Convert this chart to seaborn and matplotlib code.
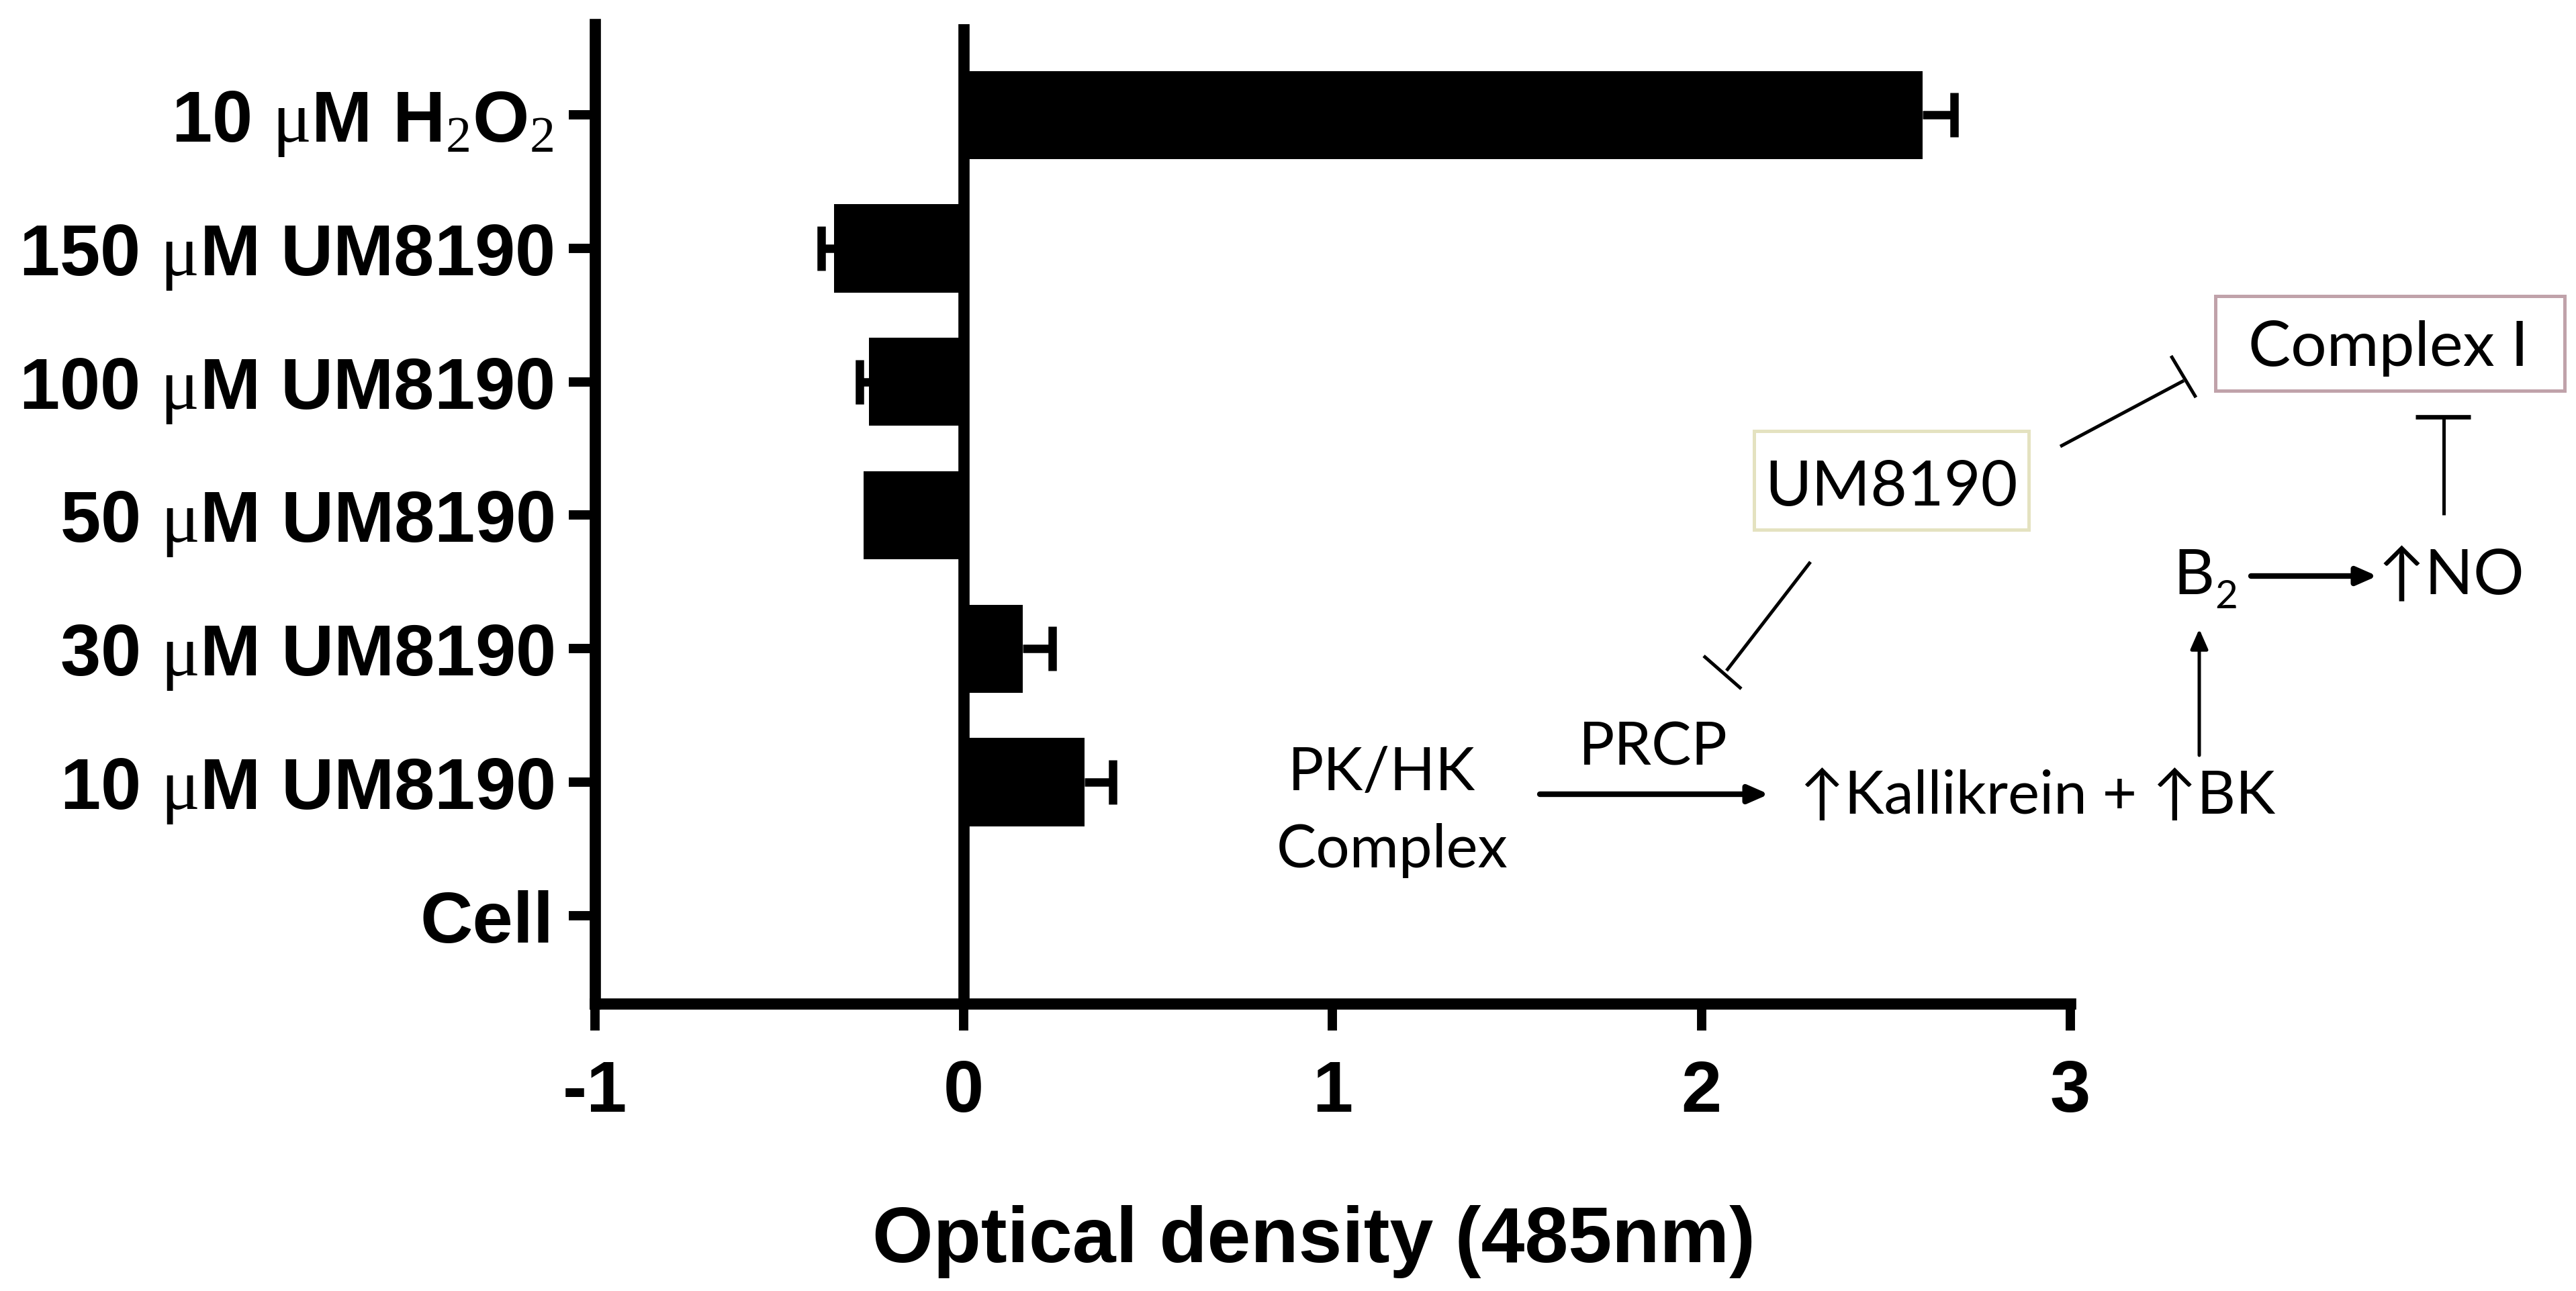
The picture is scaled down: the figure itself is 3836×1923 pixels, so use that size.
import numpy as np
import pandas as pd
import matplotlib
matplotlib.use("Agg")
import matplotlib.pyplot as plt
import seaborn as sns
from matplotlib.lines import Line2D
from matplotlib.patches import Rectangle, FancyArrowPatch

# ---------------- data ----------------
categories = ["10 uM H2O2", "150 uM UM8190", "100 uM UM8190", "50 uM UM8190",
              "30 uM UM8190", "10 uM UM8190", "Cell"]
tick_labels = [r"10 $\mu$M H$_2$O$_2$", r"150 $\mu$M UM8190", r"100 $\mu$M UM8190",
               r"50 $\mu$M UM8190", r"30 $\mu$M UM8190", r"10 $\mu$M UM8190", "Cell"]
od_values = [2.60, -0.352, -0.257, -0.271, 0.16, 0.328, 0.0]
od_errors = [0.085, 0.035, 0.025, 0.0, 0.08, 0.075, 0.0]
x_ticks = [-1, 0, 1, 2, 3]
x_tick_labels = ["-1", "0", "1", "2", "3"]

# ---------------- style ----------------
sns.set_theme(style="ticks")
plt.rcParams["font.family"] = ["Liberation Sans", "DejaVu Sans"]
plt.rcParams["mathtext.fontset"] = "custom"
plt.rcParams["mathtext.rm"] = "Liberation Serif"
plt.rcParams["mathtext.it"] = "Liberation Serif:italic"
plt.rcParams["mathtext.bf"] = "Liberation Serif:bold"
plt.rcParams["mathtext.default"] = "rm"
plt.rcParams["axes.unicode_minus"] = False
plt.rcParams["text.color"] = "black"
plt.rcParams["axes.labelcolor"] = "black"

W, H = 3837, 1924
DPI = 200
fig = plt.figure(figsize=(W / DPI, H / DPI), dpi=DPI)
fig.patch.set_facecolor("white")

ax = fig.add_axes([886 / W, 1 - 1496 / H, (3083 - 886) / W, (1496 - 37) / H])
df = pd.DataFrame({"cat": categories, "od": od_values})
sns.barplot(data=df, x="od", y="cat", order=categories, orient="h",
            color="black", saturation=1, width=0.66, errorbar=None,
            linewidth=0, ax=ax)

# one-sided error bars (outward from zero)
vals = np.array(od_values)
errs = np.array(od_errors)
ypos = np.arange(len(categories))
mask = errs > 0
sign = np.where(vals < 0, -1.0, 1.0)
ends = vals + sign * errs
for v, e, y in zip(vals[mask], ends[mask], ypos[mask]):
    ax.plot([v, e], [y, y], color="black", lw=4.5, solid_capstyle="butt", zorder=3)
ax.plot(ends[mask], ypos[mask], ls="none", marker="|", ms=24, mew=4.5,
        color="black", zorder=3)

ax.axvline(0, color="black", lw=6, zorder=4)

ax.set_xlim(-1, 3)
ax.set_ylim(6.66, -0.68)
ax.set_xticks(x_ticks)
ax.set_xticklabels(x_tick_labels)
ax.set_yticks(ypos)
ax.set_yticklabels(tick_labels)
ax.set_ylabel("")
ax.set_xlabel("Optical density (485nm)", fontsize=42, fontweight="bold",
              color="black", labelpad=36)
ax.xaxis.set_label_coords(0.487, -0.205)

for s in ["top", "right"]:
    ax.spines[s].set_visible(False)
for s in ["left", "bottom"]:
    ax.spines[s].set_linewidth(6)
    ax.spines[s].set_color("black")
ax.tick_params(axis="y", length=14, width=5, pad=8, labelsize=39, colors="black")
ax.tick_params(axis="x", length=14.5, width=5, pad=15, labelsize=39, colors="black")
for lbl in ax.get_xticklabels() + ax.get_yticklabels():
    lbl.set_fontweight("bold")
ax.set_facecolor("white")

# ---------------- pathway diagram (figure pixel coords) ----------------
def fp(x, y):
    return (x / W, 1 - y / H)

dfont = ["Lato", "DejaVu Sans"]
tkw = dict(family=dfont, color="black", fontweight="normal")

def ftext(x, y, s, size=34, ha="center", va="baseline"):
    fig.text(*fp(x, y), s, fontsize=size, ha=ha, va=va, **tkw)

def fline(x0, y0, x1, y1, lw=1.8):
    a, b = fp(x0, y0), fp(x1, y1)
    fig.add_artist(Line2D([a[0], b[0]], [a[1], b[1]], color="black", lw=lw,
                          transform=fig.transFigure, solid_capstyle="butt"))

def farrow(x0, y0, x1, y1, lw=2.8):
    fig.add_artist(FancyArrowPatch(fp(x0, y0), fp(x1, y1), transform=fig.transFigure,
                                   arrowstyle="-|>,head_length=0.5,head_width=0.22",
                                   mutation_scale=18, color="black", lw=lw,
                                   shrinkA=0, shrinkB=0))

def fbox(x0, y0, x1, y1, ec):
    a = fp(x0, y1)
    fig.add_artist(Rectangle(a, (x1 - x0) / W, (y1 - y0) / H, transform=fig.transFigure,
                             facecolor="white", edgecolor=ec, lw=1.8))

# boxes
fbox(2612, 643, 3021, 790, "#e4e2c0")
ftext(2816, 753, "UM8190", size=34)
fbox(3299, 442, 3819, 583, "#c0a2aa")
ftext(3557, 545, "Complex I", size=34)

# UM8190 -| Complex I
fline(3068, 666, 3252, 568)
fline(3233, 531, 3270, 593)
# UM8190 -| PRCP
fline(2696, 838, 2571, 1000)
fline(2537, 978, 2593, 1027)
# NO -| Complex I
fline(3639, 768, 3639, 622)
fline(3597, 622, 3679, 622, lw=2.4)

# B2 -> NO
ftext(3236, 885, "B", size=34, ha="left")
ftext(3298, 906, "2", size=21, ha="left")
farrow(3352, 859, 3540, 859, lw=3.0)
ftext(3650, 885, "\u2191NO", size=34)

# BK -> B2
farrow(3275, 1126, 3275, 938, lw=1.8)

# PK/HK complex -> Kallikrein + BK
ftext(2057, 1177, "PK/HK", size=32)
ftext(2073, 1292, "Complex", size=32)
ftext(2462, 1140, "PRCP", size=32)
farrow(2293, 1184, 2634, 1184, lw=3.0)
ftext(3034, 1212, "\u2191Kallikrein + \u2191BK", size=32)

fig.savefig("out.png", dpi=DPI, facecolor="white")
